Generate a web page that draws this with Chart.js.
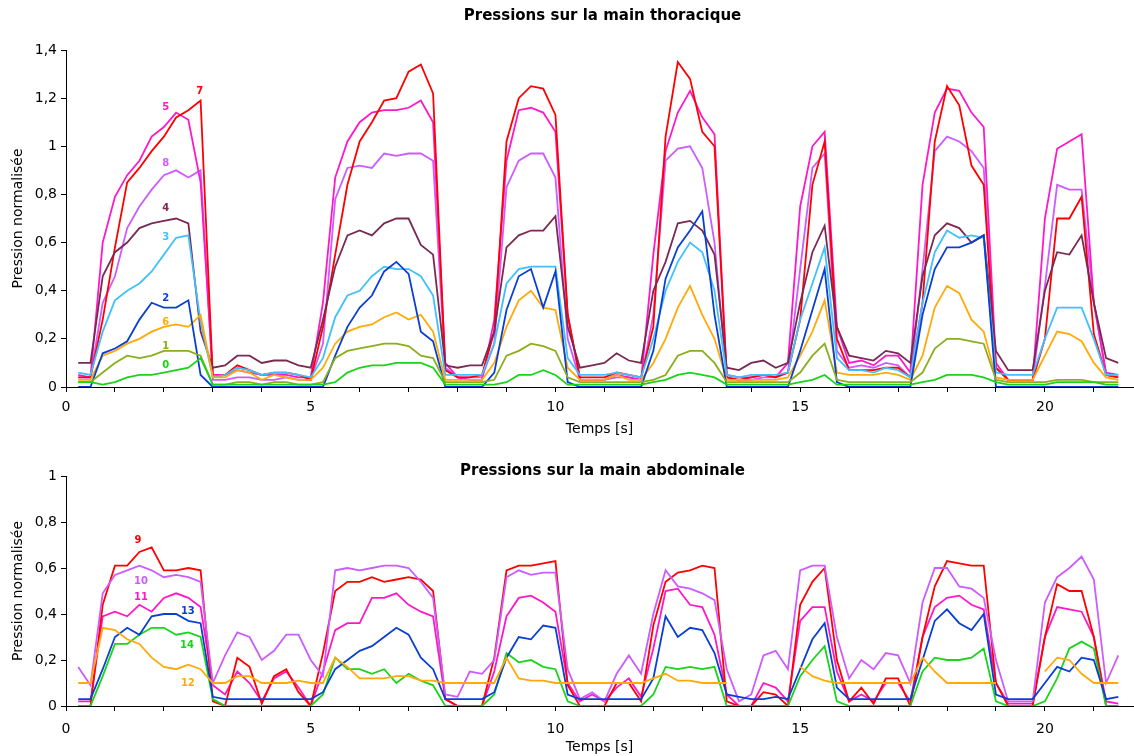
<!DOCTYPE html>
<html lang="fr">
<head>
<meta charset="utf-8">
<title>Pressions sur les mains</title>
<script src="https://cdn.jsdelivr.net/npm/chart.js@4.4.1/dist/chart.umd.min.js"></script>
<style>
  html, body { margin: 0; padding: 0; background: #fff; }
  #haut { position: absolute; left: 0; top: 0; width: 1134px; height: 440px; }
  #bas { position: absolute; left: 0; top: 440px; width: 1134px; height: 316px; }
</style>
</head>
<body>
<div id="haut"><canvas id="chart-thorax"></canvas></div>
<div id="bas"><canvas id="chart-abdomen"></canvas></div>
<script>
// Temps d'échantillonnage (s)
const temps = [
  0.25, 0.5, 0.75, 1, 1.25, 1.5, 1.75, 2, 2.25, 2.5, 2.75, 3, 3.25, 3.5, 3.75, 4, 4.25, 4.5, 4.75, 5,
  5.25, 5.5, 5.75, 6, 6.25, 6.5, 6.75, 7, 7.25, 7.5, 7.75, 8, 8.25, 8.5, 8.75, 9, 9.25, 9.5, 9.75, 10,
  10.25, 10.5, 10.75, 11, 11.25, 11.5, 11.75, 12, 12.25, 12.5, 12.75, 13, 13.25, 13.5, 13.75, 14, 14.25, 14.5, 14.75, 15,
  15.25, 15.5, 15.75, 16, 16.25, 16.5, 16.75, 17, 17.25, 17.5, 17.75, 18, 18.25, 18.5, 18.75, 19, 19.25, 19.5, 19.75, 20,
  20.25, 20.5, 20.75, 21, 21.25, 21.5
];

// Main thoracique : capteurs 0 à 8
const capteur0 = [
  0.02, 0.02, 0.01, 0.02, 0.04, 0.05, 0.05, 0.06, 0.07, 0.08, 0.12, 0.01, 0.01, 0.01, 0.01, 0.01, 0.01, 0.01, 0.01, 0.01,
  0.01, 0.02, 0.06, 0.08, 0.09, 0.09, 0.10, 0.10, 0.10, 0.08, 0.01, 0.01, 0.01, 0.01, 0.01, 0.02, 0.05, 0.05, 0.07, 0.05,
  0.01, 0.01, 0.01, 0.01, 0.01, 0.01, 0.01, 0.02, 0.03, 0.05, 0.06, 0.05, 0.04, 0.01, 0.01, 0.01, 0.01, 0.01, 0.01, 0.02,
  0.03, 0.05, 0.01, 0.01, 0.01, 0.01, 0.01, 0.01, 0.01, 0.02, 0.03, 0.05, 0.05, 0.05, 0.04, 0.02, 0.01, 0.01, 0.01, 0.01,
  0.02, 0.02, 0.02, 0.02, 0.01, 0.01
];
const capteur1 = [
  0.02, 0.02, 0.06, 0.10, 0.13, 0.12, 0.13, 0.15, 0.15, 0.15, 0.13, 0.01, 0.01, 0.02, 0.02, 0.01, 0.02, 0.02, 0.01, 0.01,
  0.02, 0.12, 0.15, 0.16, 0.17, 0.18, 0.18, 0.17, 0.13, 0.12, 0.02, 0.02, 0.02, 0.02, 0.03, 0.13, 0.15, 0.18, 0.17, 0.15,
  0.04, 0.02, 0.02, 0.02, 0.02, 0.02, 0.02, 0.03, 0.05, 0.13, 0.15, 0.15, 0.10, 0.02, 0.02, 0.02, 0.02, 0.02, 0.02, 0.06,
  0.13, 0.18, 0.03, 0.02, 0.02, 0.02, 0.02, 0.02, 0.02, 0.06, 0.16, 0.20, 0.20, 0.19, 0.18, 0.03, 0.02, 0.02, 0.02, 0.02,
  0.03, 0.03, 0.03, 0.02, 0.02, 0.02
];
const capteur2 = [
  0, 0, 0.14, 0.16, 0.19, 0.28, 0.35, 0.33, 0.33, 0.36, 0.05, 0, 0, 0, 0, 0, 0, 0, 0, 0,
  0, 0.13, 0.25, 0.33, 0.38, 0.48, 0.52, 0.47, 0.23, 0.19, 0, 0, 0, 0, 0.06, 0.32, 0.46, 0.49, 0.33, 0.48,
  0.02, 0, 0, 0, 0, 0, 0, 0.15, 0.45, 0.58, 0.65, 0.73, 0.30, 0, 0, 0, 0, 0, 0, 0.15,
  0.32, 0.49, 0.02, 0, 0, 0, 0, 0, 0, 0.30, 0.49, 0.58, 0.58, 0.60, 0.63, 0, 0, 0, 0, 0,
  0, 0, 0, 0, 0, 0
];
const capteur3 = [
  0.06, 0.05, 0.23, 0.36, 0.40, 0.43, 0.48, 0.55, 0.62, 0.63, 0.27, 0.04, 0.05, 0.08, 0.07, 0.05, 0.06, 0.06, 0.05, 0.04,
  0.12, 0.29, 0.38, 0.40, 0.46, 0.50, 0.49, 0.49, 0.46, 0.38, 0.05, 0.05, 0.05, 0.05, 0.18, 0.43, 0.49, 0.50, 0.50, 0.50,
  0.12, 0.05, 0.05, 0.05, 0.06, 0.05, 0.04, 0.20, 0.40, 0.52, 0.60, 0.56, 0.40, 0.05, 0.04, 0.05, 0.05, 0.05, 0.06, 0.28,
  0.43, 0.58, 0.12, 0.07, 0.07, 0.06, 0.08, 0.07, 0.04, 0.35, 0.56, 0.65, 0.62, 0.63, 0.62, 0.06, 0.05, 0.05, 0.05, 0.20,
  0.33, 0.33, 0.33, 0.20, 0.05, 0.05
];
const capteur4 = [
  0.10, 0.10, 0.46, 0.56, 0.60, 0.66, 0.68, 0.69, 0.70, 0.68, 0.23, 0.08, 0.09, 0.13, 0.13, 0.10, 0.11, 0.11, 0.09, 0.08,
  0.28, 0.50, 0.63, 0.65, 0.63, 0.68, 0.70, 0.70, 0.59, 0.55, 0.09, 0.08, 0.09, 0.09, 0.23, 0.58, 0.63, 0.65, 0.65, 0.71,
  0.25, 0.08, 0.09, 0.10, 0.14, 0.11, 0.10, 0.40, 0.52, 0.68, 0.69, 0.65, 0.55, 0.08, 0.07, 0.10, 0.11, 0.08, 0.10, 0.35,
  0.56, 0.67, 0.25, 0.13, 0.12, 0.11, 0.15, 0.14, 0.10, 0.46, 0.63, 0.68, 0.66, 0.60, 0.63, 0.15, 0.07, 0.07, 0.07, 0.40,
  0.56, 0.55, 0.63, 0.35, 0.12, 0.10
];
const capteur5 = [
  0.05, 0.04, 0.60, 0.79, 0.88, 0.94, 1.04, 1.08, 1.14, 1.11, 0.85, 0.05, 0.05, 0.07, 0.06, 0.05, 0.05, 0.05, 0.04, 0.04,
  0.35, 0.87, 1.02, 1.10, 1.14, 1.15, 1.15, 1.16, 1.19, 1.10, 0.10, 0.04, 0.03, 0.03, 0.28, 0.94, 1.15, 1.16, 1.14, 1.06,
  0.30, 0.03, 0.03, 0.03, 0.05, 0.04, 0.03, 0.55, 0.98, 1.14, 1.23, 1.12, 1.05, 0.05, 0.04, 0.04, 0.05, 0.04, 0.10, 0.75,
  1.00, 1.06, 0.25, 0.10, 0.11, 0.09, 0.13, 0.13, 0.06, 0.84, 1.14, 1.24, 1.23, 1.14, 1.08, 0.10, 0.03, 0.03, 0.03, 0.70,
  0.99, 1.02, 1.05, 0.35, 0.06, 0.05
];
const capteur6 = [
  0.03, 0.03, 0.13, 0.15, 0.18, 0.20, 0.23, 0.25, 0.26, 0.25, 0.30, 0.04, 0.04, 0.07, 0.06, 0.03, 0.05, 0.04, 0.03, 0.03,
  0.08, 0.18, 0.23, 0.25, 0.26, 0.29, 0.31, 0.28, 0.30, 0.23, 0.03, 0.03, 0.03, 0.03, 0.10, 0.25, 0.36, 0.40, 0.33, 0.32,
  0.08, 0.03, 0.03, 0.03, 0.05, 0.03, 0.03, 0.10, 0.20, 0.33, 0.42, 0.30, 0.20, 0.03, 0.03, 0.03, 0.03, 0.03, 0.04, 0.13,
  0.23, 0.36, 0.06, 0.05, 0.05, 0.05, 0.06, 0.05, 0.03, 0.13, 0.33, 0.42, 0.39, 0.28, 0.23, 0.04, 0.03, 0.03, 0.03, 0.13,
  0.23, 0.22, 0.19, 0.10, 0.04, 0.03
];
const capteur7 = [
  0.04, 0.04, 0.28, 0.58, 0.85, 0.91, 0.98, 1.04, 1.12, 1.15, 1.19, 0.04, 0.05, 0.09, 0.07, 0.05, 0.06, 0.06, 0.05, 0.03,
  0.25, 0.55, 0.84, 1.02, 1.10, 1.19, 1.20, 1.31, 1.34, 1.22, 0.07, 0.04, 0.04, 0.05, 0.23, 1.02, 1.20, 1.25, 1.24, 1.13,
  0.30, 0.04, 0.04, 0.04, 0.06, 0.05, 0.04, 0.25, 1.04, 1.35, 1.28, 1.06, 1.00, 0.04, 0.03, 0.04, 0.05, 0.04, 0.06, 0.28,
  0.84, 1.02, 0.20, 0.07, 0.07, 0.07, 0.08, 0.08, 0.04, 0.35, 1.02, 1.25, 1.17, 0.92, 0.84, 0.08, 0.03, 0.03, 0.03, 0.20,
  0.70, 0.70, 0.79, 0.22, 0.05, 0.04
];
const capteur8 = [
  0.04, 0.04, 0.35, 0.46, 0.66, 0.75, 0.82, 0.88, 0.90, 0.87, 0.90, 0.03, 0.03, 0.04, 0.04, 0.03, 0.03, 0.04, 0.03, 0.03,
  0.18, 0.78, 0.91, 0.92, 0.91, 0.97, 0.96, 0.97, 0.97, 0.94, 0.08, 0.04, 0.04, 0.04, 0.18, 0.83, 0.94, 0.97, 0.97, 0.87,
  0.20, 0.03, 0.03, 0.03, 0.04, 0.04, 0.03, 0.30, 0.94, 0.99, 1.00, 0.91, 0.60, 0.04, 0.03, 0.03, 0.04, 0.04, 0.06, 0.49,
  0.91, 0.97, 0.15, 0.08, 0.09, 0.08, 0.10, 0.09, 0.04, 0.49, 0.98, 1.04, 1.02, 0.98, 0.91, 0.08, 0.03, 0.03, 0.03, 0.42,
  0.84, 0.82, 0.82, 0.35, 0.05, 0.04
];

// Main abdominale : capteurs 9 à 14
const capteur9 = [
  0, 0, 0.44, 0.61, 0.61, 0.67, 0.69, 0.59, 0.59, 0.60, 0.59, 0.02, 0, 0.21, 0.17, 0.01, 0.13, 0.16, 0.06, 0,
  0.23, 0.50, 0.54, 0.54, 0.56, 0.54, 0.55, 0.56, 0.55, 0.50, 0.03, 0, 0, 0, 0.21, 0.59, 0.61, 0.61, 0.62, 0.63,
  0.09, 0, 0, 0, 0.10, 0.10, 0.02, 0.35, 0.54, 0.58, 0.59, 0.61, 0.60, 0.02, 0, 0, 0.06, 0.05, 0, 0.44,
  0.54, 0.60, 0.20, 0.02, 0.08, 0.01, 0.12, 0.12, 0, 0.30, 0.52, 0.63, 0.62, 0.61, 0.61, 0.10, 0, 0, 0, 0.30,
  0.53, 0.50, 0.50, 0.30, 0, 0
];
const capteur10 = [
  0.17, 0.09, 0.49, 0.57, 0.59, 0.61, 0.59, 0.56, 0.57, 0.56, 0.54, 0.10, 0.22, 0.32, 0.30, 0.20, 0.24, 0.31, 0.31, 0.20,
  0.13, 0.59, 0.60, 0.59, 0.60, 0.61, 0.61, 0.60, 0.54, 0.47, 0.05, 0.04, 0.15, 0.14, 0.20, 0.56, 0.59, 0.57, 0.58, 0.58,
  0.16, 0.03, 0.06, 0.02, 0.14, 0.22, 0.14, 0.40, 0.59, 0.52, 0.51, 0.49, 0.46, 0.16, 0.02, 0.05, 0.22, 0.24, 0.16, 0.59,
  0.61, 0.61, 0.30, 0.12, 0.20, 0.16, 0.23, 0.22, 0.10, 0.45, 0.60, 0.60, 0.52, 0.51, 0.47, 0.20, 0.02, 0.02, 0.02, 0.45,
  0.56, 0.60, 0.65, 0.55, 0.10, 0.22
];
const capteur11 = [
  0.02, 0.02, 0.39, 0.41, 0.39, 0.44, 0.41, 0.47, 0.49, 0.47, 0.43, 0.09, 0.05, 0.15, 0.10, 0.02, 0.12, 0.15, 0.08, 0,
  0.15, 0.33, 0.36, 0.36, 0.47, 0.47, 0.49, 0.44, 0.41, 0.39, 0.03, 0, 0, 0, 0.15, 0.39, 0.47, 0.48, 0.45, 0.41,
  0.10, 0.02, 0.05, 0.02, 0.08, 0.12, 0.04, 0.25, 0.50, 0.51, 0.44, 0.43, 0.31, 0.05, 0, 0, 0.10, 0.08, 0.02, 0.37,
  0.43, 0.43, 0.15, 0.02, 0.05, 0.02, 0.10, 0.10, 0.02, 0.30, 0.43, 0.47, 0.48, 0.44, 0.42, 0.10, 0.01, 0.01, 0.01, 0.30,
  0.43, 0.42, 0.41, 0.30, 0.02, 0.01
];
// null = pas de mesure (trait interrompu)
const capteur12 = [
  0.10, 0.10, 0.34, 0.33, 0.29, 0.27, 0.21, 0.17, 0.16, 0.18, 0.16, 0.10, 0.10, 0.13, 0.13, 0.10, 0.10, 0.10, 0.11, 0.10,
  0.10, 0.21, 0.17, 0.12, 0.12, 0.12, 0.13, 0.13, 0.11, 0.11, 0.10, 0.10, 0.10, 0.10, 0.10, 0.21, 0.12, 0.11, 0.11, 0.10,
  0.10, 0.10, 0.10, 0.10, 0.10, 0.10, 0.10, 0.12, 0.14, 0.11, 0.11, 0.10, 0.10, 0.10, null, null, null, null, null, 0.17,
  0.13, 0.11, 0.10, 0.10, 0.10, 0.10, 0.10, 0.10, 0.10, 0.21, 0.15, 0.10, 0.10, 0.10, 0.10, 0.10, null, null, null, 0.15,
  0.21, 0.20, 0.14, 0.10, 0.10, 0.10
];
const capteur13 = [
  0.03, 0.03, 0.16, 0.30, 0.34, 0.31, 0.39, 0.40, 0.40, 0.37, 0.36, 0.04, 0.03, 0.03, 0.03, 0.03, 0.03, 0.03, 0.03, 0.03,
  0.06, 0.16, 0.20, 0.24, 0.26, 0.30, 0.34, 0.31, 0.21, 0.16, 0.03, 0.03, 0.03, 0.03, 0.06, 0.21, 0.30, 0.29, 0.35, 0.34,
  0.05, 0.03, 0.03, 0.03, 0.03, 0.03, 0.03, 0.12, 0.39, 0.30, 0.34, 0.33, 0.23, 0.05, 0.04, 0.03, 0.03, 0.04, 0.03, 0.16,
  0.29, 0.36, 0.08, 0.03, 0.03, 0.03, 0.03, 0.03, 0.03, 0.20, 0.37, 0.42, 0.36, 0.33, 0.40, 0.05, 0.03, 0.03, 0.03, 0.10,
  0.17, 0.15, 0.21, 0.20, 0.03, 0.04
];
const capteur14 = [
  0, 0, 0.13, 0.27, 0.27, 0.31, 0.34, 0.34, 0.31, 0.32, 0.30, 0.03, 0, 0, 0, 0, 0, 0, 0, 0,
  0.05, 0.21, 0.16, 0.16, 0.14, 0.16, 0.10, 0.14, 0.11, 0.09, 0, 0, 0, 0, 0.05, 0.23, 0.19, 0.20, 0.17, 0.16,
  0.02, 0, 0, 0, 0, 0, 0, 0.05, 0.17, 0.16, 0.17, 0.16, 0.17, 0, 0, 0, 0, 0, 0, 0.13,
  0.20, 0.26, 0.02, 0, 0, 0, 0, 0, 0, 0.15, 0.21, 0.20, 0.20, 0.21, 0.25, 0.02, 0, 0, 0, 0.02,
  0.12, 0.25, 0.28, 0.25, 0, 0
];

// Graduations
const ticksY_haut = [0, 0.2, 0.4, 0.6, 0.8, 1, 1.2, 1.4];
const ticksY_bas = [0, 0.2, 0.4, 0.6, 0.8, 1];

// Numéros des capteurs écrits sur les courbes : [numéro, temps, pression]
const etiquettesHaut = [
  ['5', 2.04, 1.16], ['7', 2.73, 1.23], ['8', 2.04, 0.93], ['4', 2.04, 0.74], ['3', 2.04, 0.62],
  ['2', 2.04, 0.37], ['6', 2.04, 0.27], ['1', 2.04, 0.17], ['0', 2.04, 0.09]
];
const etiquettesBas = [
  ['9', 1.47, 0.72], ['10', 1.53, 0.54], ['11', 1.53, 0.47], ['13', 2.49, 0.41],
  ['14', 2.47, 0.265], ['12', 2.49, 0.10]
];

const couleurs = {
  0: '#19d419', 1: '#8aae1c', 2: '#0a3fd4', 3: '#40c0ff', 4: '#7a2a52',
  5: '#ff18c8', 6: '#ffaa0a', 7: '#ff0000', 8: '#cc5cff',
  9: '#ff0000', 10: '#cc5cff', 11: '#ff18c8', 12: '#ffaa0a', 13: '#0a3fd4', 14: '#19d419'
};

const series = {
  0: capteur0, 1: capteur1, 2: capteur2, 3: capteur3, 4: capteur4, 5: capteur5, 6: capteur6,
  7: capteur7, 8: capteur8, 9: capteur9, 10: capteur10, 11: capteur11, 12: capteur12,
  13: capteur13, 14: capteur14
};

Chart.defaults.font.family = '"DejaVu Sans", sans-serif';
Chart.defaults.color = '#000';

function formatVirgule(v) {
  return String(Math.round(v * 10) / 10).replace('.', ',');
}

// first dataset is drawn on top
function jeuxDeDonnees(ordre) {
  return ordre.map((n) => ({
    label: String(n),
    data: temps.map((t, i) => ({ x: t, y: series[n][i] })),
    borderColor: couleurs[n],
    borderWidth: 1.8,
    pointRadius: 0,
    tension: 0,
    spanGaps: false,
    fill: false,
  }));
}

// Title + sensor numbers, drawn in data coordinates
const decorations = {
  id: 'decorations',
  afterDatasetsDraw(chart, args, opts) {
    const ctx = chart.ctx;
    const area = chart.chartArea;
    ctx.save();
    ctx.fillStyle = '#000';
    ctx.font = 'bold 15px "DejaVu Sans", sans-serif';
    ctx.textAlign = 'center';
    ctx.textBaseline = 'middle';
    ctx.fillText(opts.titre, (area.left + area.right) / 2 + 3, opts.titreY);

    ctx.font = 'bold 10px "DejaVu Sans", sans-serif';
    opts.etiquettes.forEach(([nom, t, v]) => {
      ctx.fillStyle = couleurs[Number(nom)];
      ctx.fillText(nom, chart.scales.x.getPixelForValue(t), chart.scales.y.getPixelForValue(v));
    });
    ctx.restore();
  },
};

function optionsGraphique(cfg) {
  return {
    responsive: true,
    maintainAspectRatio: false,
    animation: false,
    layout: { padding: { top: cfg.haut, right: 1, bottom: 0, left: 0 } },
    plugins: {
      legend: { display: false },
      tooltip: { enabled: false },
      title: { display: false },
      decorations: { titre: cfg.titre, titreY: cfg.titreY, etiquettes: cfg.etiquettes },
    },
    scales: {
      x: {
        type: 'linear',
        min: 0,
        max: 21.8,
        border: { color: '#000', width: 1 },
        grid: { drawOnChartArea: false, drawTicks: true, tickLength: 5, tickColor: '#000' },
        ticks: {
          stepSize: 1,
          autoSkip: false,
          maxRotation: 0,
          includeBounds: false,
          padding: cfg.padTicksX,
          font: { size: 14 },
          callback: (v) => (v % 5 === 0 ? String(v) : ''),
        },
        title: {
          display: true,
          text: 'Temps [s]',
          font: { size: 14 },
          padding: { top: 0, bottom: cfg.titreXBas },
        },
        afterFit: (s) => { s.height = cfg.hauteurX; },
      },
      y: {
        min: 0,
        max: cfg.maxY,
        border: { color: '#000', width: 1 },
        grid: { drawOnChartArea: false, drawTicks: true, tickLength: 5, tickColor: '#000' },
        afterBuildTicks: (s) => { s.ticks = cfg.ticksY.map((v) => ({ value: v })); },
        ticks: {
          padding: 4,
          font: { size: 14 },
          callback: (v) => formatVirgule(v),
        },
        title: {
          display: true,
          text: 'Pression normalisée',
          font: { size: 14 },
          padding: { top: 10, bottom: 0 },
        },
        afterFit: (s) => { s.width = 66; },
      },
    },
  };
}

new Chart(document.getElementById('chart-thorax'), {
  type: 'line',
  data: { datasets: jeuxDeDonnees([0, 1, 2, 6, 3, 4, 7, 5, 8]) },
  options: optionsGraphique({
    haut: 50, hauteurX: 53, titreXBas: 2, padTicksX: 7, maxY: 1.4, ticksY: ticksY_haut,
    titre: 'Pressions sur la main thoracique', titreY: 16, etiquettes: etiquettesHaut,
  }),
  plugins: [decorations],
});

new Chart(document.getElementById('chart-abdomen'), {
  type: 'line',
  data: { datasets: jeuxDeDonnees([12, 13, 14, 10, 9, 11]) },
  options: optionsGraphique({
    haut: 36, hauteurX: 50, titreXBas: 0, padTicksX: 10, maxY: 1, ticksY: ticksY_bas,
    titre: 'Pressions sur la main abdominale', titreY: 31, etiquettes: etiquettesBas,
  }),
  plugins: [decorations],
});
</script>
</body>
</html>
